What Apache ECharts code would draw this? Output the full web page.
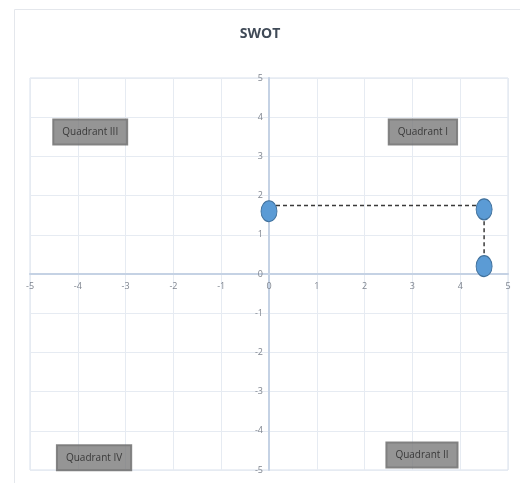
<!DOCTYPE html>
<html>
<head>
<meta charset="utf-8">
<script src="https://cdn.jsdelivr.net/npm/echarts@6/dist/echarts.min.js"></script>
<style>
  html, body { margin: 0; padding: 0; background: #fff; }
  #main { width: 520px; height: 483px; }
</style>
</head>
<body>
<div id="main"></div>
<script>
// 数据
var pointX = [0, 4.5, 4.5]
var pointY = [1.6, 1.65, 0.2]
var dashX = [0, 4.5, 4.5]
var dashY = [1.75, 1.75, 0.25]
var quadNames = ['Quadrant III', 'Quadrant I', 'Quadrant IV', 'Quadrant II']
var quadX = [-3.74, 3.22, -3.66, 3.2]
var quadY = [3.62, 3.62, -4.69, -4.62]

var myChart = echarts.init(document.getElementById('main'))

// 坐标轴移到零点（标签也跟着）
var gridL = 30, gridR = 12, gridT = 78, gridB = 13

var option = {
  animation: false,
  title: {
    text: 'SWOT',
    left: 'center',
    top: 22,
    textStyle: { fontFamily: 'Open Sans', fontSize: 14, fontWeight: 'bold', color: '#404a57' }
  },
  graphic: [{
    type: 'rect',
    shape: { x: 14.5, y: 9.5, width: 520, height: 490 },
    style: { fill: 'none', stroke: '#e4e7ec', lineWidth: 1 },
    silent: true
  }],
  grid: { left: gridL, right: gridR, top: gridT, bottom: gridB, show: true, borderColor: '#d9e1ec', borderWidth: 1 },
  xAxis: {
    type: 'value', min: -5, max: 5, interval: 1,
    offset: -(483 - gridT - gridB) / 2,
    axisLine: { onZero: false, lineStyle: { color: '#c5d2e4', width: 2 } },
    axisTick: { show: false },
    axisLabel: { color: '#7f858f', fontSize: 9, fontFamily: 'Open Sans', margin: 8 },
    splitLine: { lineStyle: { color: '#e6ebf2' } }
  },
  yAxis: {
    type: 'value', min: -5, max: 5, interval: 1,
    offset: -(520 - gridL - gridR) / 2,
    axisLine: { onZero: false, lineStyle: { color: '#c5d2e4', width: 2 } },
    axisTick: { show: false },
    axisLabel: { color: '#7f858f', fontSize: 9, fontFamily: 'Open Sans', margin: 6 },
    splitLine: { lineStyle: { color: '#e6ebf2' } }
  },
  series: [
    {
      type: 'line',
      data: dashX.map(function (x, i) { return [x, dashY[i]] }),
      symbol: 'none',
      lineStyle: { color: '#3a3a3a', width: 1.5, type: [4, 3] },
      z: 2
    },
    {
      type: 'scatter',
      data: pointX.map(function (x, i) { return [x, pointY[i]] }),
      symbol: 'circle',
      symbolSize: [16, 21],
      itemStyle: { color: '#5b9bd5', borderColor: '#41719c', borderWidth: 1, opacity: 1 },
      z: 3
    },
    {
      type: 'scatter',
      data: quadX.map(function (x, i) { return { value: [x, quadY[i]], name: quadNames[i] } }),
      symbolSize: 0,
      silent: true,
      label: {
        show: true,
        position: 'inside',
        formatter: '{b}',
        color: '#1f1f1f',
        fontFamily: 'Open Sans',
        fontSize: 10,
        backgroundColor: '#7b7b7b',
        borderColor: '#676767',
        borderWidth: 1,
        padding: [8, 9, 7, 9]
      },
      z: 4
    }
  ]
}

myChart.setOption(option)
</script>
</body>
</html>
